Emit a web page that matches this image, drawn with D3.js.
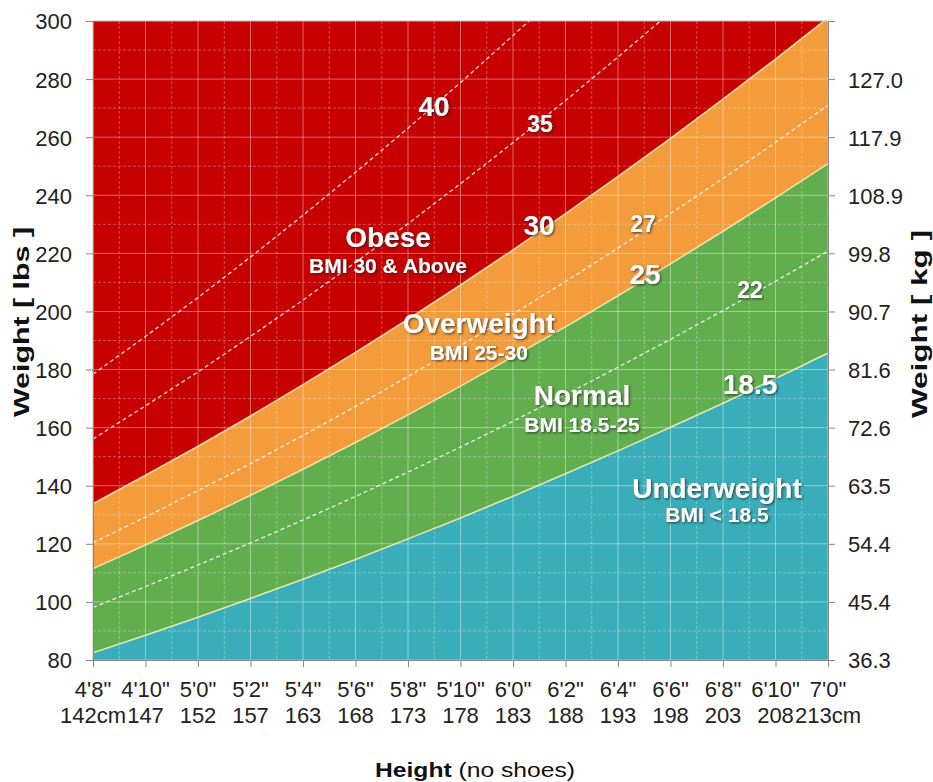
<!DOCTYPE html>
<html>
<head>
<meta charset="utf-8">
<script src="https://cdn.jsdelivr.net/npm/d3@7"></script>
<style>
  body { margin: 0; background: #fff; }
  svg { display: block; font-family: "Liberation Sans", Arial, sans-serif; }
</style>
</head>
<body>
<svg id="chart" width="933" height="782"></svg>
<script>
// ---------- data ----------
const heightsIn = [56, 58, 60, 62, 64, 66, 68, 70, 72, 74, 76, 78, 80, 82, 84];
const feetLabels = ["4'8\"", "4'10\"", "5'0\"", "5'2\"", "5'4\"", "5'6\"", "5'8\"", "5'10\"", "6'0\"", "6'2\"", "6'4\"", "6'6\"", "6'8\"", "6'10\"", "7'0\""];
const cmLabels = ["142cm", "147", "152", "157", "163", "168", "173", "178", "183", "188", "193", "198", "203", "208", "213cm"];
const lbsTicks = [80, 100, 120, 140, 160, 180, 200, 220, 240, 260, 280, 300];
const kgTicks = [80, 100, 120, 140, 160, 180, 200, 220, 240, 260, 280];
const kgLabels = ["36.3", "45.4", "54.4", "63.5", "72.6", "81.6", "90.7", "99.8", "108.9", "117.9", "127.0"];

// weight (lbs) of each BMI line at each height in heightsIn
const bmi185 = [82.5, 88.5, 94.7, 101.2, 107.8, 114.6, 121.7, 128.9, 136.4, 144.1, 152.0, 160.1, 168.4, 176.9, 185.7];
const bmi22  = [98.1, 105.3, 112.7, 120.3, 128.2, 136.3, 144.7, 153.3, 162.2, 171.4, 180.8, 190.4, 200.3, 210.4, 220.8];
const bmi25  = [111.5, 119.6, 128.0, 136.7, 145.7, 154.9, 164.4, 174.3, 184.4, 194.7, 205.4, 216.4, 227.6, 239.1, 250.9];
const bmi27  = [120.4, 129.2, 138.3, 147.6, 157.3, 167.3, 177.6, 188.2, 199.1, 210.3, 221.8, 233.7, 245.8, 258.2, 271.0];
const bmi30  = [133.8, 143.6, 153.6, 164.0, 174.8, 185.9, 197.3, 209.1, 221.2, 233.7, 246.5, 259.6, 273.1, 286.9, 301.1];
const bmi35  = [156.1, 167.5, 179.2, 191.4, 203.9, 216.9, 230.2, 244.0, 258.1, 272.6, 287.6, 302.9, 318.6, 334.8, 351.3];
const bmi40  = [178.4, 191.4, 204.8, 218.7, 233.1, 247.9, 263.1, 278.8, 295.0, 311.6, 328.6, 346.2, 364.2, 382.6, 401.5];

// ---------- layout ----------
const svg = d3.select("#chart");
const M = { left: 93, right: 828, top: 21, bottom: 660 };
const x = d3.scaleLinear().domain([56, 84]).range([M.left, M.right]);
const y = d3.scaleLinear().domain([80, 300]).range([M.bottom, M.top]);

const COLORS = { obese: "#C70102", over: "#F49C3B", normal: "#62AE4E", under: "#39AEBA" };

const defs = svg.append("defs");
defs.append("clipPath").attr("id", "plotClip").append("rect")
  .attr("x", M.left).attr("y", M.top).attr("width", M.right - M.left).attr("height", M.bottom - M.top);
const f = defs.append("filter").attr("id", "shadow").attr("x", "-20%").attr("y", "-20%").attr("width", "140%").attr("height", "160%");
f.append("feDropShadow").attr("dx", 1.2).attr("dy", 1.2).attr("stdDeviation", 1.1)
  .attr("flood-color", "#222").attr("flood-opacity", 0.75);

const plot = svg.append("g").attr("clip-path", "url(#plotClip)");

// background (obese)
plot.append("rect").attr("x", M.left).attr("y", M.top)
  .attr("width", M.right - M.left).attr("height", M.bottom - M.top).attr("fill", COLORS.obese);

const areaTo = vals => d3.area().x((d, i) => x(heightsIn[i])).y0(y(80)).y1((d) => y(d))(vals);
plot.append("path").attr("d", areaTo(bmi30)).attr("fill", COLORS.over);
plot.append("path").attr("d", areaTo(bmi25)).attr("fill", COLORS.normal);
plot.append("path").attr("d", areaTo(bmi185)).attr("fill", COLORS.under);

// grid
const minorX = d3.range(57, 84, 2);
const minorY = d3.range(90, 300, 20);
plot.selectAll(".gmx").data(minorX).join("line")
  .attr("x1", d => x(d)).attr("x2", d => x(d)).attr("y1", M.top).attr("y2", M.bottom)
  .attr("stroke", "#fff").attr("stroke-opacity", 0.3).attr("stroke-width", 1).attr("stroke-dasharray", "3,2");
plot.selectAll(".gmy").data(minorY).join("line")
  .attr("y1", d => y(d)).attr("y2", d => y(d)).attr("x1", M.left).attr("x2", M.right)
  .attr("stroke", "#fff").attr("stroke-opacity", 0.3).attr("stroke-width", 1).attr("stroke-dasharray", "3,2");
plot.selectAll(".gx").data(heightsIn.slice(1, -1)).join("line")
  .attr("x1", d => x(d)).attr("x2", d => x(d)).attr("y1", M.top).attr("y2", M.bottom)
  .attr("stroke", "#fff").attr("stroke-opacity", 0.4).attr("stroke-width", 1);
plot.selectAll(".gy").data(lbsTicks.slice(1, -1)).join("line")
  .attr("y1", d => y(d)).attr("y2", d => y(d)).attr("x1", M.left).attr("x2", M.right)
  .attr("stroke", "#fff").attr("stroke-opacity", 0.4).attr("stroke-width", 1);

// boundaries & dashed BMI lines
const line = d3.line().x((d, i) => x(heightsIn[i])).y(d => y(d));
[bmi185, bmi25, bmi30].forEach(v => {
  plot.append("path").attr("d", line(v)).attr("fill", "none")
    .attr("stroke", "#FBEFB8").attr("stroke-opacity", 0.85).attr("stroke-width", 1.6);
});
[bmi22, bmi27, bmi35, bmi40].forEach(v => {
  plot.append("path").attr("d", line(v)).attr("fill", "none")
    .attr("stroke", "#fff").attr("stroke-opacity", 0.85).attr("stroke-width", 1.3).attr("stroke-dasharray", "4,3");
});

// border
svg.append("rect").attr("x", M.left).attr("y", M.top).attr("width", M.right - M.left).attr("height", M.bottom - M.top)
  .attr("fill", "none").attr("stroke", "#bbb").attr("stroke-width", 1);

// axes
const axisColor = "#888";
const leftAxis = svg.append("g").attr("transform", `translate(${M.left},0)`)
  .call(d3.axisLeft(y).tickValues(lbsTicks).tickSize(7).tickPadding(14));
const rightAxis = svg.append("g").attr("transform", `translate(${M.right},0)`)
  .call(d3.axisRight(y).tickValues(kgTicks).tickSize(7).tickPadding(13).tickFormat((d, i) => kgLabels[i]));
const bottomAxis = svg.append("g").attr("transform", `translate(0,${M.bottom})`)
  .call(d3.axisBottom(x).tickValues(heightsIn).tickSize(7).tickFormat(() => ""));
[leftAxis, rightAxis, bottomAxis].forEach(g => {
  g.select(".domain").attr("stroke", axisColor);
  g.selectAll(".tick line").attr("stroke", axisColor);
  g.selectAll("text").attr("font-size", 22).attr("fill", "#222").attr("font-family", "Liberation Sans, Arial, sans-serif");
});
rightAxis.selectAll("text").attr("dy", "0.36em");
leftAxis.selectAll("text").attr("dy", "0.36em");

// two-line x labels
const xl = svg.append("g").attr("font-size", 22).attr("fill", "#222").attr("text-anchor", "middle");
xl.selectAll(".ft").data(heightsIn).join("text")
  .attr("x", d => x(d)).attr("y", 697).text((d, i) => feetLabels[i]);
xl.selectAll(".cm").data(heightsIn).join("text")
  .attr("x", d => x(d)).attr("y", 723).text((d, i) => cmLabels[i]);

// axis titles
svg.append("text").attr("transform", "translate(29,322) rotate(-90)")
  .attr("text-anchor", "middle").attr("font-weight", "bold").attr("font-size", 22).attr("fill", "#111")
  .attr("textLength", 190).attr("lengthAdjust", "spacingAndGlyphs").text("Weight [ lbs ]");
svg.append("text").attr("transform", "translate(927,324) rotate(-90)")
  .attr("text-anchor", "middle").attr("font-weight", "bold").attr("font-size", 22).attr("fill", "#111")
  .attr("textLength", 188).attr("lengthAdjust", "spacingAndGlyphs").text("Weight [ kg ]");
const ht = svg.append("text").attr("x", 475).attr("y", 777).attr("text-anchor", "middle")
  .attr("font-size", 20).attr("fill", "#111").attr("textLength", 200).attr("lengthAdjust", "spacingAndGlyphs");
ht.append("tspan").attr("font-weight", "bold").text("Height");
ht.append("tspan").text(" (no shoes)");

// in-plot annotations (positions in data units)
const ann = svg.append("g").attr("fill", "#fff").attr("font-weight", "bold").attr("text-anchor", "middle")
  .attr("filter", "url(#shadow)");
const labels = [
  { t: "Obese", h: 67.24, w: 222.2, s: 28 },
  { t: "BMI 30 & Above", h: 67.24, w: 213.2, s: 21 },
  { t: "Overweight", h: 70.70, w: 192.6, s: 28 },
  { t: "BMI 25-30", h: 70.70, w: 183.3, s: 21 },
  { t: "Normal", h: 74.63, w: 167.8, s: 28 },
  { t: "BMI 18.5-25", h: 74.63, w: 158.5, s: 21 },
  { t: "Underweight", h: 79.77, w: 135.8, s: 28 },
  { t: "BMI < 18.5", h: 79.77, w: 127.5, s: 21 },
  { t: "40", h: 68.99, w: 267.3, s: 28 },
  { t: "35", h: 73.03, w: 261.8, s: 23 },
  { t: "30", h: 72.99, w: 226.3, s: 28 },
  { t: "27", h: 76.95, w: 227.5, s: 23 },
  { t: "25", h: 77.03, w: 209.6, s: 28 },
  { t: "22", h: 81.03, w: 204.5, s: 23 },
  { t: "18.5", h: 81.03, w: 171.5, s: 28 }
];
ann.selectAll("text").data(labels).join("text")
  .attr("x", d => x(d.h)).attr("y", d => y(d.w)).attr("font-size", d => d.s).text(d => d.t);
</script>
</body>
</html>
